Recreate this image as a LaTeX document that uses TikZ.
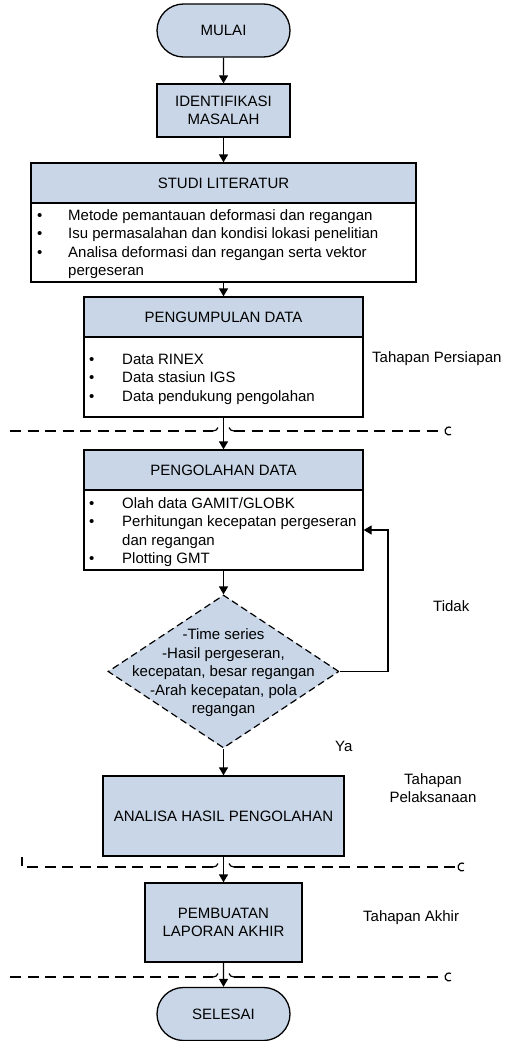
\documentclass[tikz,border=0pt]{standalone}
\usepackage{fontspec}
\setmainfont{Liberation Sans}
\usetikzlibrary{shapes.geometric,shapes.misc,arrows.meta}
\definecolor{boxfill}{RGB}{200,214,231}
\begin{document}
\begin{tikzpicture}[x=1pt,y=-1pt,
  every node/.style={font=\fontsize{15}{18.5}\selectfont},
  box/.style={draw, line width=1.3pt, fill=boxfill, rectangle, inner sep=0, align=center},
  bodybox/.style={draw, line width=1.3pt, fill=white, rectangle, inner sep=0},
  term/.style={draw, line width=1.3pt, fill=boxfill, rounded rectangle, minimum width=133pt, minimum height=53pt, inner sep=0},
  arr/.style={line width=1.3pt, -{Triangle[width=9pt,length=8pt]}},
  sepline/.style={line width=1.2pt, dash pattern=on 11pt off 6.5pt},
  thin/.style={line width=1.2pt},
  plain/.style={inner sep=0, align=left},
  lbl/.style={inner sep=0}
]
\useasboundingbox (0,0) rectangle (504,1041);

% nodes
\node[term] (mulai) at (223.5,30.5) {MULAI};
\node[box, minimum width=133pt, minimum height=53pt] (ident) at (223.5,110.5) {IDENTIFIKASI\\MASALAH};

\node[box, minimum width=385pt, minimum height=40pt] (studi) at (223.5,183) {STUDI LITERATUR};
\node[bodybox, minimum width=385pt, minimum height=79pt] (studib) at (223.5,242.5) {};
\node[plain, anchor=base west] (studit) at (37,220) {\begin{tabular}[t]{@{}l@{}l@{}}
\makebox[31pt][l]{\textbullet} & Metode pemantauan deformasi dan regangan\\
\makebox[31pt][l]{\textbullet} & Isu permasalahan dan kondisi lokasi penelitian\\
\makebox[31pt][l]{\textbullet} & Analisa deformasi dan regangan serta vektor\\
 & pergeseran
\end{tabular}};

\node[box, minimum width=279pt, minimum height=40pt] (kumpul) at (223.5,317) {PENGUMPULAN DATA};
\node[bodybox, minimum width=279pt, minimum height=80pt] (kumpulb) at (223.5,377) {};
\node[plain, anchor=base west] (kumpult) at (89,364) {\begin{tabular}[t]{@{}l@{}l@{}}
\makebox[33pt][l]{\textbullet} & Data RINEX\\
\makebox[33pt][l]{\textbullet} & Data stasiun IGS\\
\makebox[33pt][l]{\textbullet} & Data pendukung pengolahan
\end{tabular}};

\node[box, minimum width=279pt, minimum height=40pt] (olah) at (223.5,470) {PENGOLAHAN DATA};
\node[bodybox, minimum width=279pt, minimum height=80pt] (olahb) at (223.5,530) {};
\node[plain, anchor=base west] (olaht) at (89,508) {\begin{tabular}[t]{@{}l@{}l@{}}
\makebox[33pt][l]{\textbullet} & Olah data GAMIT/GLOBK\\
\makebox[33pt][l]{\textbullet} & Perhitungan kecepatan pergeseran\\
 & dan regangan\\
\makebox[33pt][l]{\textbullet} & Plotting GMT
\end{tabular}};

\node[diamond, draw, line width=1.2pt, dash pattern=on 7pt off 4pt, fill=boxfill, minimum width=231pt, minimum height=153pt, inner sep=0] (dec) at (223.5,671.5) {};
\node[align=center, inner sep=0] (dect) at (223.5,673) {-Time series\\-Hasil pergeseran,\\kecepatan, besar regangan\\-Arah kecepatan, pola\\regangan};

\node[box, minimum width=241pt, minimum height=80pt] (analisa) at (223.5,816) {ANALISA HASIL PENGOLAHAN};
\node[box, minimum width=157pt, minimum height=79pt] (buat) at (223.5,922.5) {PEMBUATAN\\LAPORAN AKHIR};
\node[term] (selesai) at (223.5,1014) {SELESAI};

% labels
\node[lbl, anchor=west] (persiapan) at (372,359) {Tahapan Persiapan};
\node[lbl, anchor=west] (tidak) at (433,606) {Tidak};
\node[lbl, anchor=west] (ya) at (335,746) {Ya};
\node[lbl, align=center] (pelaks) at (433,788) {Tahapan\\Pelaksanaan};
\node[lbl, anchor=west] (akhir) at (363,918) {Tahapan Akhir};

% connectors
\draw[arr] (mulai) -- (ident);
\draw[arr] (ident) -- (studi);
\draw[arr] (studib) -- (kumpul);
\draw[arr] (kumpulb) -- (olah);
\draw[arr] (olahb) -- (dec);
\draw[arr] (dec) -- (analisa);
\draw[arr] (analisa) -- (buat);
\draw[arr] (buat) -- (selesai);
\coordinate (fbend) at (388,530);
\draw[arr] (dec.east) -| (fbend) -- (fbend -| olahb.east);

% separator 1
\coordinate (s1a) at (10,431);
\coordinate (s1b) at (443,431);
\draw[sepline] (s1a) -- (213,431);
\draw[thin] (213,431) .. controls (216,431) and (217,429.5) .. (218,427.5);
\draw[thin] (229,427.5) .. controls (230,429.5) and (231,431) .. (234,431);
\draw[sepline] (234,431) -- (s1b);
\draw[thin] (451,434.46) arc[start angle=60,end angle=300,radius=4];

% separator 2
\coordinate (s2a) at (27,867);
\coordinate (s2b) at (456,867);
\draw[thin] (22,857) -- (22,866);
\draw[sepline] (s2a) -- (213,867);
\draw[thin] (213,867) .. controls (216,867) and (217,865.5) .. (218,863.5);
\draw[thin] (229,863.5) .. controls (230,865.5) and (231,867) .. (234,867);
\draw[sepline] (234,867) -- (s2b);
\draw[thin] (464,870.46) arc[start angle=60,end angle=300,radius=4];

% separator 3
\coordinate (s3a) at (10,977);
\coordinate (s3b) at (443,977);
\draw[sepline] (s3a) -- (213,977);
\draw[thin] (213,977) .. controls (216,977) and (217,975.5) .. (218,973.5);
\draw[thin] (229,973.5) .. controls (230,975.5) and (231,977) .. (234,977);
\draw[sepline] (234,977) -- (s3b);
\draw[thin] (451,980.46) arc[start angle=60,end angle=300,radius=4];
\end{tikzpicture}
\end{document}
